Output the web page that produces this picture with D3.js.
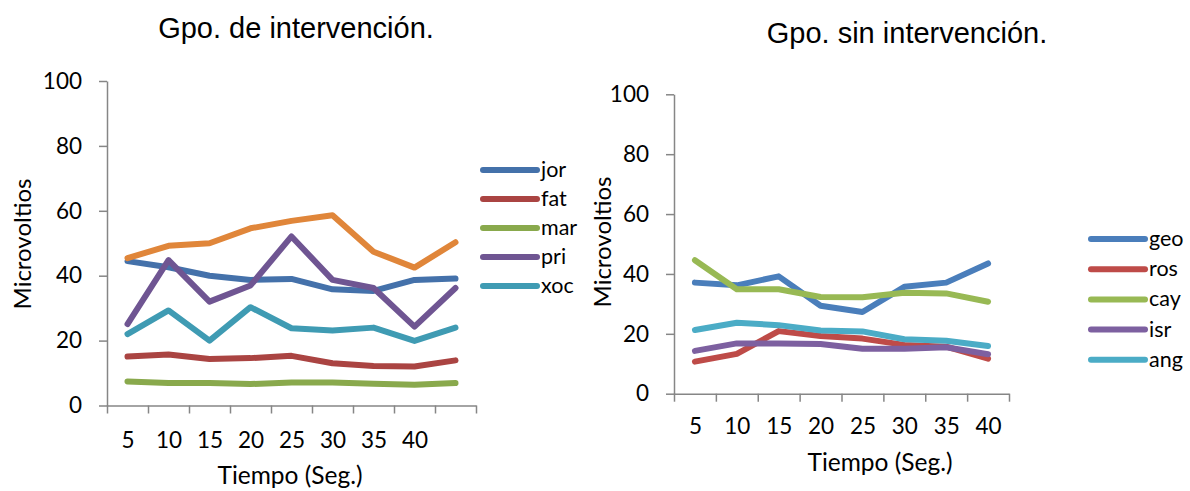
<!DOCTYPE html>
<html>
<head>
<meta charset="utf-8">
<script src="https://cdn.jsdelivr.net/npm/d3@7"></script>
<style>
  body { margin: 0; background: #fff; }
  text { font-family: Lato, "Open Sans", sans-serif; fill: #000; }
  .title { font-family: "Liberation Sans", Arial, sans-serif; }
</style>
</head>
<body>
<svg id="chart" width="1190" height="491"></svg>
<script>
// tick labels of the time axis (left panel has one extra unlabelled point)
const leftTimes = ["5", "10", "15", "20", "25", "30", "35", "40", ""];
const rightTimes = ["5", "10", "15", "20", "25", "30", "35", "40"];
const yTicks = [0, 20, 40, 60, 80, 100];

// Gpo. de intervención
const leftNames = ["jor", "fat", "mar", "pri", "xoc", ""];
const jor = [44.5, 42.6, 40.0, 38.7, 39.0, 35.8, 35.3, 38.7, 39.1];
const fat = [15.1, 15.7, 14.3, 14.6, 15.3, 13.0, 12.2, 12.0, 13.9];
const mar = [7.4, 6.9, 6.9, 6.6, 7.1, 7.1, 6.7, 6.4, 6.9];
const pri = [25.1, 44.8, 32.0, 37.0, 52.1, 38.7, 36.2, 24.3, 36.2];
const xoc = [22.0, 29.3, 20.0, 30.3, 23.8, 23.1, 24.0, 19.9, 24.0];
const extra = [45.4, 49.2, 50.0, 54.6, 56.9, 58.6, 47.4, 42.5, 50.3];

// Gpo. sin intervención
const rightNames = ["geo", "ros", "cay", "isr", "ang"];
const geo = [37.1, 36.2, 39.2, 29.4, 27.3, 35.7, 37.1, 43.5];
const ros = [10.7, 13.3, 20.9, 19.3, 18.4, 16.3, 15.7, 11.7];
const cay = [44.6, 34.9, 34.9, 32.3, 32.2, 33.7, 33.5, 30.7];
const isr = [14.3, 16.8, 16.8, 16.6, 15.0, 15.0, 15.5, 13.2];
const ang = [21.3, 23.7, 22.9, 21.1, 20.8, 18.2, 17.7, 15.9];

const leftColors = ["#4471aa", "#aa4442", "#89a94c", "#6f5592", "#3f9bb3", "#e0863a"];
const rightColors = ["#4a7ebb", "#be4b48", "#98b954", "#7d60a0", "#4bacc6"];

const svg = d3.select("#chart");

function drawPanel(opt) {
  const g = svg.append("g");
  const n = opt.times.length;

  const x = d3.scaleLinear().domain([0, n]).range([opt.x0, opt.x1]);
  const y = d3.scaleLinear().domain([0, 100]).range([opt.y0, opt.y1]);

  // y axis
  const yAxis = g.append("g")
    .attr("transform", `translate(${opt.x0},0)`)
    .call(d3.axisLeft(y).tickValues(yTicks).tickSize(8).tickSizeOuter(0).tickPadding(17));
  yAxis.selectAll("text").style("font-size", "22.5px");

  // x axis: tick marks between categories
  g.append("g")
    .attr("transform", `translate(0,${opt.y0})`)
    .call(d3.axisBottom(x).tickValues(d3.range(n + 1)).tickFormat("").tickSize(8).tickSizeOuter(0));

  // x labels centred on categories
  const xLab = g.append("g")
    .attr("transform", `translate(0,${opt.y0})`)
    .call(d3.axisBottom(x).tickValues(d3.range(n).map(i => i + 0.5))
      .tickFormat((d, i) => opt.times[i]).tickSize(0).tickPadding(opt.xPad));
  xLab.select(".domain").remove();
  xLab.selectAll("text").style("font-size", "22.5px");

  g.selectAll(".domain, .tick line").attr("stroke", "#868686").attr("stroke-width", 1.5);

  const line = d3.line()
    .x((d, i) => x(i + 0.5))
    .y(d => y(d));

  opt.series.forEach((s, k) => {
    g.append("path")
      .datum(s)
      .attr("d", line)
      .attr("fill", "none")
      .attr("stroke", opt.colors[k])
      .attr("stroke-width", 6)
      .attr("stroke-linejoin", "round")
      .attr("stroke-linecap", "round");
  });

  // legend
  opt.names.forEach((name, k) => {
    if (!name) return;
    const ly = opt.legY + k * opt.legStep;
    g.append("line")
      .attr("x1", opt.legX).attr("x2", opt.legX + 54)
      .attr("y1", ly).attr("y2", ly)
      .attr("stroke", opt.colors[k])
      .attr("stroke-width", 6)
      .attr("stroke-linecap", "round");
    g.append("text")
      .text(name)
      .attr("x", opt.legX + 58)
      .attr("y", ly + 7)
      .style("font-size", "21.5px");
  });

  // titles and axis labels
  g.append("text")
    .attr("class", "title")
    .text(opt.title)
    .attr("x", opt.titleX)
    .attr("y", opt.titleY)
    .attr("text-anchor", "middle")
    .style("font-size", "29px");

  g.append("text")
    .text("Microvoltios")
    .attr("transform", `translate(${opt.yLabX},${opt.yLabY}) rotate(-90)`)
    .attr("text-anchor", "middle")
    .style("font-size", "24px");

  g.append("text")
    .text("Tiempo (Seg.)")
    .attr("x", opt.xLabX)
    .attr("y", opt.xLabY)
    .attr("text-anchor", "middle")
    .style("font-size", "24.5px");
}

drawPanel({
  times: leftTimes,
  series: [jor, fat, mar, pri, xoc, extra],
  names: leftNames,
  colors: leftColors,
  x0: 107, x1: 476, y0: 405.5, y1: 81,
  xPad: 27,
  legX: 483, legY: 170, legStep: 29,
  title: "Gpo. de intervención.", titleX: 296, titleY: 38,
  yLabX: 31, yLabY: 244,
  xLabX: 290, xLabY: 484
});

drawPanel({
  times: rightTimes,
  series: [geo, ros, cay, isr, ang],
  names: rightNames,
  colors: rightColors,
  x0: 674, x1: 1009, y0: 393.7, y1: 94.3,
  xPad: 24,
  legX: 1091, legY: 239, legStep: 30.2,
  title: "Gpo. sin intervención.", titleX: 907, titleY: 43,
  yLabX: 611, yLabY: 242,
  xLabX: 880, xLabY: 471
});
</script>
</body>
</html>
